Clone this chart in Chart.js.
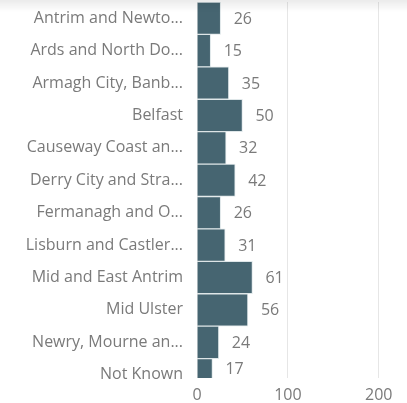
<!DOCTYPE html>
<html>
<head>
<meta charset="utf-8">
<script src="https://cdn.jsdelivr.net/npm/chart.js@4/dist/chart.umd.min.js"></script>
<style>
  html, body { margin: 0; padding: 0; background: #fff; }
  #wrap { position: relative; width: 407px; height: 403px; }
  #shade { position: absolute; left: 0; top: 0; width: 407px; height: 12px;
           background: linear-gradient(to bottom, rgba(0,0,0,0.08), rgba(0,0,0,0)); pointer-events: none; }
</style>
</head>
<body>
<div id="wrap">
  <canvas id="barChart" width="407" height="403"></canvas>
  <div id="shade"></div>
</div>
<script>
// categorie (testo troncato come nel riferimento)
const councils = [
    "Antrim and Newto...",
    "Ards and North Do...",
    "Armagh City, Banb...",
    "Belfast",
    "Causeway Coast an...",
    "Derry City and Stra...",
    "Fermanagh and O...",
    "Lisburn and Castler...",
    "Mid and East Antrim",
    "Mid Ulster",
    "Newry, Mourne an...",
    "Not Known"
];
const counts = [26, 15, 35, 50, 32, 42, 26, 31, 61, 56, 24, 17];
const xTicks = [0, 100, 200];

const FONT = "'Open Sans', sans-serif";
const GREY = "#7a7a7a";

// etichette dei valori a destra delle barre
const valueLabels = {
    id: "valueLabels",
    afterDatasetsDraw(chart) {
        const c = chart.ctx;
        const area = chart.chartArea;
        const meta = chart.getDatasetMeta(0);
        c.save();
        c.font = "16px " + FONT;
        c.fillStyle = GREY;
        c.textAlign = "left";
        c.textBaseline = "middle";
        meta.data.forEach((bar, i) => {
            const h = bar.height;
            const top = Math.max(area.top, bar.y - h / 2);
            const bottom = Math.min(area.bottom, bar.y + h / 2);
            c.fillText(String(counts[i]), bar.x + 13, (top + bottom) / 2 + 1);
        });
        c.restore();
    }
};

const ctx = document.getElementById("barChart").getContext("2d");
const barChart = new Chart(ctx, {
    type: "bar",
    data: {
        datasets: [
            {
                data: counts.map((v, i) => ({ x: v, y: i })),
                backgroundColor: "#466571",
                borderColor: "rgba(220,228,231,0.9)",
                borderWidth: 1,
                barPercentage: 1,
                categoryPercentage: 1,
            },
        ],
    },
    options: {
        indexAxis: "y",
        responsive: false,
        animation: false,
        layout: { padding: { top: 2, right: 1, left: 0, bottom: 0 } },
        plugins: { legend: { display: false }, tooltip: { enabled: false } },
        scales: {
            y: {
                type: "linear",
                reverse: true,
                offset: false,
                min: -0.5,
                max: 11.1,
                afterBuildTicks: (scale) => {
                    scale.ticks = councils.map((_, i) => ({ value: i }));
                },
                afterFit: (scale) => {
                    scale.width = 197;
                    scale.paddingTop = 0;
                    scale.paddingBottom = 0;
                },
                grid: { display: false, drawTicks: false },
                border: { display: false },
                ticks: {
                    autoSkip: false,
                    padding: 14,
                    color: GREY,
                    font: { family: FONT, size: 16 },
                    callback: (v) => councils[v],
                },
            },
            x: {
                type: "linear",
                min: 0,
                max: 230,
                afterBuildTicks: (scale) => {
                    scale.ticks = xTicks.map((v) => ({ value: v }));
                },
                afterFit: (scale) => {
                    scale.height = 25;
                    scale.paddingLeft = 0;
                    scale.paddingRight = 0;
                },
                grid: { color: "#e6e6e6", drawTicks: false },
                border: { display: false },
                ticks: {
                    padding: 8,
                    color: GREY,
                    font: { family: FONT, size: 16 },
                },
            },
        },
    },
    plugins: [valueLabels],
});
</script>
</body>
</html>
